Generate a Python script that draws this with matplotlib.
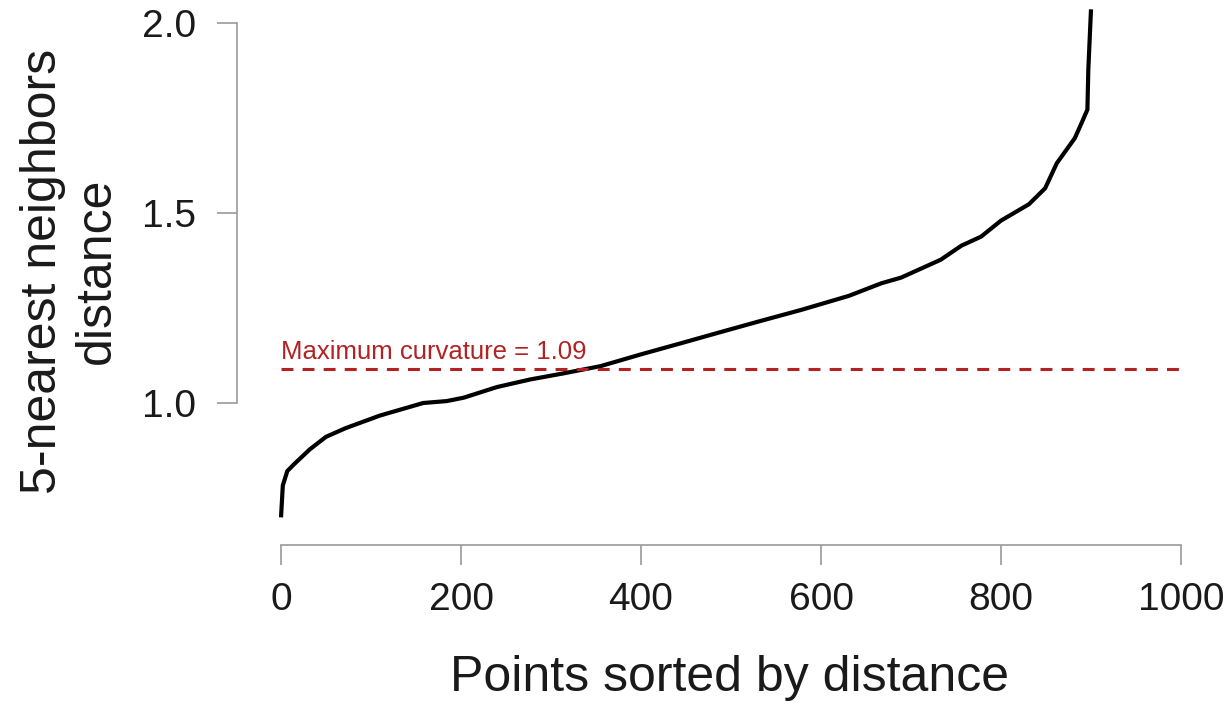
"""k-nearest neighbour distance plot with the maximum curvature cut."""

import matplotlib
matplotlib.use('Agg')
import matplotlib.pyplot as plt

# points sorted by distance
idx = [0, 2, 7, 15, 32, 50, 72, 110, 158, 184, 203, 240, 277, 314, 355,
       400, 444, 489, 533, 578, 631, 667, 689, 733, 756, 778, 800, 831,
       849, 862, 882, 889, 896, 897, 900]
knn_dist = [0.699, 0.783, 0.821, 0.840, 0.878, 0.911, 0.934, 0.967, 1.0,
            1.005, 1.014, 1.042, 1.062, 1.078, 1.097, 1.128, 1.157, 1.187,
            1.216, 1.245, 1.282, 1.315, 1.330, 1.377, 1.414, 1.438, 1.480,
            1.523, 1.565, 1.631, 1.697, 1.734, 1.772, 1.876, 2.036]
cut = 1.09
x_ticks = [0, 200, 400, 600, 800, 1000]
y_ticks = [1.0, 1.5, 2.0]

plt.rcParams['font.family'] = ['Liberation Sans', 'DejaVu Sans']
gray = '#9a9a9a'
red = '#b22222'

fig = plt.figure(figsize=(12.28, 7.07), dpi=100)
ax = fig.add_axes([237 / 1228, 1 - 545 / 707, 944 / 1228, 540 / 707])
ax.set_xlim(-48.9, 1000)
ax.set_ylim(0.6263, 2.0474)

ax.plot(idx, knn_dist, color='black', lw=3, solid_capstyle='butt',
        solid_joinstyle='round', clip_on=False)
ax.plot([0, 1000], [cut, cut], color=red, lw=2.2, ls=(0, (3.9, 3.0)))
ax.annotate('Maximum curvature = %.2f' % cut, xy=(0, cut),
            xytext=(0, 7), textcoords='offset points', color=red,
            fontsize=18.5, ha='left', va='baseline')

for side in ['top', 'right']:
    ax.spines[side].set_visible(False)
for side in ['left', 'bottom']:
    ax.spines[side].set_color(gray)
    ax.spines[side].set_linewidth(1.2)
ax.spines['left'].set_bounds(1.0, 2.0)
ax.spines['bottom'].set_bounds(0, 1000)

ax.set_xticks(x_ticks)
ax.set_yticks(y_ticks)
ax.set_yticklabels(['%.1f' % v for v in y_ticks])
ax.tick_params(axis='both', length=14.4, width=1.2, color=gray,
               labelsize=28, labelcolor='#1a1a1a')
ax.tick_params(axis='x', pad=12)
ax.tick_params(axis='y', pad=15)

fig.text(730 / 1228, 1 - 678 / 707, 'Points sorted by distance',
         fontsize=36, ha='center', va='center', color='#1a1a1a')
fig.text(70 / 1228, 1 - 271 / 707, '5-nearest neighbors\ndistance',
         fontsize=36, rotation=90, ha='center', va='center',
         multialignment='center', color='#1a1a1a')

fig.savefig('out.png', dpi=100)
